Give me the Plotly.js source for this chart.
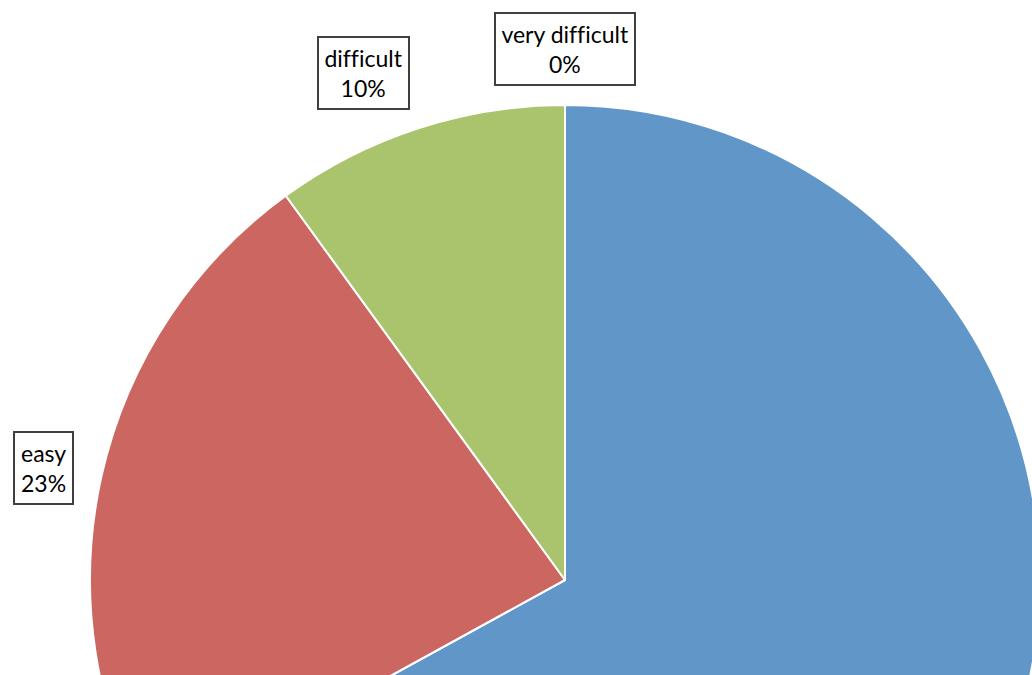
<!DOCTYPE html>
<html>
<head>
<meta charset="utf-8">
<script src="https://cdn.plot.ly/plotly-3.0.1.min.js"></script>
<style>
html,body{margin:0;padding:0;width:1032px;height:675px;overflow:hidden;background:#fff;}
#chart{position:absolute;left:0;top:0;width:1130px;height:1160px;}
#chart text{font-variant-ligatures:none;font-feature-settings:"liga" 0;}
</style>
</head>
<body>
<div id="chart"></div>
<script>
var labels = ["very easy", "easy", "difficult", "very difficult"];
var values = [67, 23, 10, 0];
var colors = ["#6196C8", "#CC6660", "#A9C46C", "#8064A2"];

// label box centres in page pixels (layout only)
var labelPos = {
  "easy": [43, 468],
  "difficult": [363, 73],
  "very difficult": [565, 49]
};

var L = 90, T = 105, S = 950;
var annotations = [];
labels.forEach(function(lab, i){
  if (!labelPos[lab]) return;
  var p = labelPos[lab];
  annotations.push({
    xref: "paper", yref: "paper",
    x: (p[0] - L) / S, y: 1 - (p[1] - T) / S,
    xanchor: "center", yanchor: "middle",
    text: lab + "<br>" + values[i] + "%",
    showarrow: false,
    font: {family: "Lato, 'Liberation Sans', sans-serif", size: 23, color: "#000"},
    bordercolor: "#404040", borderwidth: 2, borderpad: 6,
    bgcolor: "#fff"
  });
});

var data = [{
  type: "pie",
  labels: labels,
  values: values,
  sort: false,
  direction: "clockwise",
  rotation: 0,
  textinfo: "none",
  hoverinfo: "label+percent",
  marker: {colors: colors, line: {color: "#fff", width: 2}},
  domain: {x: [0, 1], y: [0, 1]},
  showlegend: false
}];

var layout = {
  width: 1130, height: 1160,
  margin: {l: L, r: 90, t: T, b: 105},
  paper_bgcolor: "rgba(0,0,0,0)",
  plot_bgcolor: "rgba(0,0,0,0)",
  showlegend: false,
  annotations: annotations
};

Plotly.newPlot("chart", data, layout, {displayModeBar: false, staticPlot: true});
</script>
</body>
</html>
